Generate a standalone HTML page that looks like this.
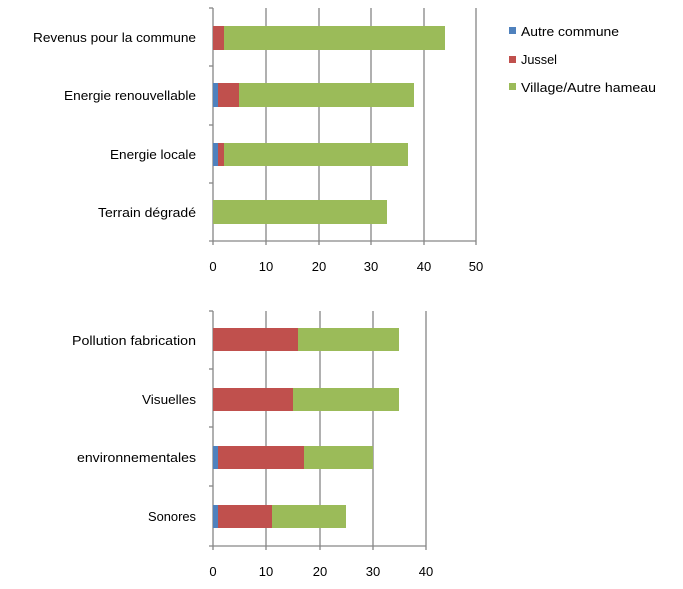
<!DOCTYPE html>
<html><head><meta charset="utf-8"><style>body{margin:0;background:#fff}svg{display:block}</style></head><body>
<svg width="683" height="589" xmlns="http://www.w3.org/2000/svg" font-family="Liberation Sans, sans-serif" font-size="13" fill="#000">
<g stroke="#868686" stroke-width="1.3">
<line x1="266" y1="8" x2="266" y2="241"/><line x1="319" y1="8" x2="319" y2="241"/><line x1="371" y1="8" x2="371" y2="241"/><line x1="424" y1="8" x2="424" y2="241"/><line x1="476" y1="8" x2="476" y2="241"/>
<line x1="213" y1="8" x2="213" y2="245"/><line x1="209" y1="241" x2="476" y2="241"/>
<line x1="209" y1="8" x2="213" y2="8"/><line x1="209" y1="66" x2="213" y2="66"/><line x1="209" y1="125" x2="213" y2="125"/><line x1="209" y1="183" x2="213" y2="183"/>
<line x1="266" y1="241" x2="266" y2="245"/><line x1="319" y1="241" x2="319" y2="245"/><line x1="371" y1="241" x2="371" y2="245"/><line x1="424" y1="241" x2="424" y2="245"/><line x1="476" y1="241" x2="476" y2="245"/>
<line x1="266" y1="311" x2="266" y2="546"/><line x1="320" y1="311" x2="320" y2="546"/><line x1="373" y1="311" x2="373" y2="546"/><line x1="426" y1="311" x2="426" y2="546"/>
<line x1="213" y1="311" x2="213" y2="550"/><line x1="209" y1="546" x2="426" y2="546"/>
<line x1="209" y1="311" x2="213" y2="311"/><line x1="209" y1="369" x2="213" y2="369"/><line x1="209" y1="427" x2="213" y2="427"/><line x1="209" y1="486" x2="213" y2="486"/>
<line x1="266" y1="546" x2="266" y2="550"/><line x1="320" y1="546" x2="320" y2="550"/><line x1="373" y1="546" x2="373" y2="550"/><line x1="426" y1="546" x2="426" y2="550"/>
</g>
<rect x="213" y="26" width="11" height="24" fill="#c0504d"/><rect x="224" y="26" width="221" height="24" fill="#9bbb59"/>
<rect x="213" y="83" width="5" height="24" fill="#4f81bd"/><rect x="218" y="83" width="21" height="24" fill="#c0504d"/><rect x="239" y="83" width="175" height="24" fill="#9bbb59"/>
<rect x="213" y="143" width="5" height="23" fill="#4f81bd"/><rect x="218" y="143" width="6" height="23" fill="#c0504d"/><rect x="224" y="143" width="184" height="23" fill="#9bbb59"/>
<rect x="213" y="200" width="174" height="24" fill="#9bbb59"/>
<rect x="213" y="328" width="85" height="23" fill="#c0504d"/><rect x="298" y="328" width="101" height="23" fill="#9bbb59"/>
<rect x="213" y="388" width="80" height="23" fill="#c0504d"/><rect x="293" y="388" width="106" height="23" fill="#9bbb59"/>
<rect x="213" y="446" width="5" height="23" fill="#4f81bd"/><rect x="218" y="446" width="86" height="23" fill="#c0504d"/><rect x="304" y="446" width="69" height="23" fill="#9bbb59"/>
<rect x="213" y="505" width="5" height="23" fill="#4f81bd"/><rect x="218" y="505" width="54" height="23" fill="#c0504d"/><rect x="272" y="505" width="74" height="23" fill="#9bbb59"/>
<g text-anchor="end">
<text x="196" y="42" textLength="163" lengthAdjust="spacingAndGlyphs">Revenus pour la commune</text>
<text x="196" y="100" textLength="132" lengthAdjust="spacingAndGlyphs">Energie renouvellable</text>
<text x="196" y="159" textLength="86" lengthAdjust="spacingAndGlyphs">Energie locale</text>
<text x="196" y="217" textLength="98" lengthAdjust="spacingAndGlyphs">Terrain dégradé</text>
<text x="196" y="345" textLength="124" lengthAdjust="spacingAndGlyphs">Pollution fabrication</text>
<text x="196" y="404" textLength="54" lengthAdjust="spacingAndGlyphs">Visuelles</text>
<text x="196" y="462" textLength="119" lengthAdjust="spacingAndGlyphs">environnementales</text>
<text x="196" y="521" textLength="48" lengthAdjust="spacingAndGlyphs">Sonores</text>
</g>
<g text-anchor="middle">
<text x="213" y="271">0</text><text x="266" y="271">10</text><text x="319" y="271">20</text><text x="371" y="271">30</text><text x="424" y="271">40</text><text x="476" y="271">50</text>
<text x="213" y="576">0</text><text x="266" y="576">10</text><text x="320" y="576">20</text><text x="373" y="576">30</text><text x="426" y="576">40</text>
</g>
<rect x="509" y="27" width="7" height="7" fill="#4f81bd"/><text x="521" y="36" textLength="98" lengthAdjust="spacingAndGlyphs">Autre commune</text>
<rect x="509" y="56" width="7" height="7" fill="#c0504d"/><text x="521" y="64" textLength="36" lengthAdjust="spacingAndGlyphs">Jussel</text>
<rect x="509" y="83" width="7" height="7" fill="#9bbb59"/><text x="521" y="92" textLength="135" lengthAdjust="spacingAndGlyphs">Village/Autre hameau</text>
</svg>
</body></html>
